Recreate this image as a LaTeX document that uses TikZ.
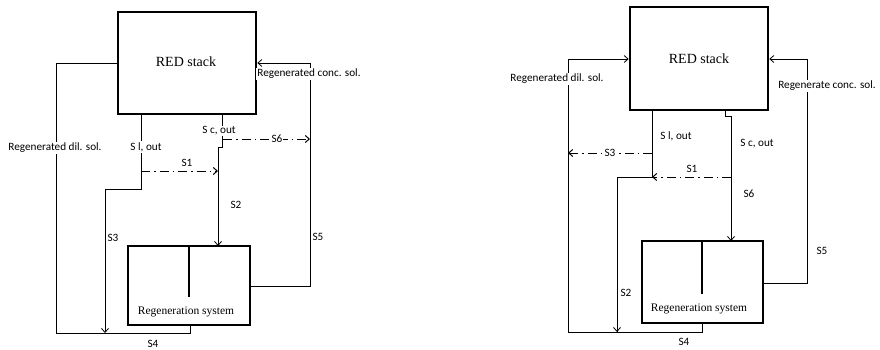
\documentclass[tikz,border=0pt]{standalone}
\usepackage{fontspec}
\setmainfont{Liberation Serif}
\newfontfamily\labfont{Carlito}
\usetikzlibrary{arrows.meta}
\begin{document}
\begin{tikzpicture}[x=1pt,y=-1pt,
  unitbox/.style={draw,line width=2.6pt,inner sep=0pt,rectangle},
  flow/.style={line width=0.8pt},
  arr/.style={flow,-{Straight Barb[length=4pt,width=7pt]}},
  dd/.style={line width=1pt,dash pattern=on 9pt off 4pt on 1.5pt off 4pt},
  dda/.style={dd,-{Straight Barb[length=4pt,width=7pt]}},
  lab/.style={font=\labfont\fontsize{11.2}{13}\selectfont,inner sep=1pt},
  labw/.style={lab,fill=white},
  title/.style={font=\fontsize{14}{16}\selectfont},
  regtxt/.style={font=\fontsize{11.5}{13}\selectfont},
  divider/.style={line width=2.6pt}]
\useasboundingbox (0,0) rectangle (880,350);
% ===== Left diagram =====
\node[unitbox,minimum width=138pt,minimum height=102pt] (stackL) at (187,63) {};
\node[title] (stackLt) at (186,62) {RED stack};
\node[unitbox,minimum width=122pt,minimum height=79pt] (regL) at (189,285.5) {};
\node[regtxt] (regLt) at (186,312) {Regeneration system};
\coordinate (dL1) at (189,246);
\coordinate (dL2) at (189,297);
\draw[divider] (dL1) -- (dL2);
% coordinates
\coordinate (Lsl) at (141,114);
\coordinate (Lslb) at (141,189);
\coordinate (Lslc) at (105,189);
\coordinate (Lsld) at (105,333);
\coordinate (Ls1a) at (141,171);
\coordinate (Ls1b) at (218,171);
\coordinate (Lsc) at (222,114);
\coordinate (Lscb) at (222,147);
\coordinate (Lscc) at (218,147);
\coordinate (Lscd) at (218,246);
\coordinate (Ls6a) at (223,139);
\coordinate (Ls6b) at (310,139);
\coordinate (Lrb) at (190,325);
\coordinate (Lrb2) at (190,333);
\coordinate (Lbl) at (56,333);
\coordinate (Ltl) at (56,63);
\coordinate (Lre) at (250,286);
\coordinate (Lbr) at (310,286);
\coordinate (Ltr) at (310,63);
% connectors
\draw[flow] (Lrb) -- (Lrb2) -- (Lbl) -- (Ltl) -- (stackL.west);
\draw[arr] (Lre) -- (Lbr) -- (Ltr) -- (stackL.east);
\draw[arr] (Lsl) -- (Lslb) -- (Lslc) -- (Lsld);
\draw[arr] (Lsc) -- (Lscb) -- (Lscc) -- (Lscd);
\draw[dda] (Ls1a) -- (Ls1b);
\draw[dda] (Ls6a) -- (Ls6b);
% labels
\node[labw] (LdilT) at (55,148) {Regenerated dil. sol.};
\node[labw] (LconT) at (309,74) {Regenerated conc. sol.};
\node[labw] (LslT) at (146,147) {S l, out};
\node[labw] (LscT) at (219,131) {S c, out};
\node[lab] (LS1) at (187,163) {S1};
\node[labw] (LS6) at (277,139) {S6};
\node[lab] (LS2) at (236,205) {S2};
\node[lab] (LS3) at (113,238) {S3};
\node[lab] (LS5) at (318,237) {S5};
\node[lab] (LS4) at (153,343.5) {S4};
% ===== Right diagram =====
\node[unitbox,minimum width=138pt,minimum height=103pt] (stackR) at (699,58.5) {};
\node[title] (stackRt) at (699,59) {RED stack};
\node[unitbox,minimum width=121pt,minimum height=82pt] (regR) at (702.5,282) {};
\node[regtxt] (regRt) at (699,309) {Regeneration system};
\coordinate (dR1) at (702,241);
\coordinate (dR2) at (702,294);
\draw[divider] (dR1) -- (dR2);
% coordinates
\coordinate (Rrb) at (702,323);
\coordinate (Rrb2) at (702,332);
\coordinate (Rbl) at (568,332);
\coordinate (Rtl) at (568,59);
\coordinate (Rre) at (763,283);
\coordinate (Rbr) at (807,283);
\coordinate (Rtr) at (807,59);
\coordinate (Rsl) at (652,110);
\coordinate (Rslb) at (652,177);
\coordinate (Rslc) at (617,177);
\coordinate (Rsld) at (617,332);
\coordinate (Rsc) at (725,110);
\coordinate (Rscb) at (725,116);
\coordinate (Rscc) at (731,116);
\coordinate (Rscd) at (731,241);
\coordinate (Rs1a) at (731,177);
\coordinate (Rs3a) at (652,153);
\coordinate (Rs3b) at (568,153);
% connectors
\draw[arr] (Rrb) -- (Rrb2) -- (Rbl) -- (Rtl) -- (stackR.west |- Rtl);
\draw[arr] (Rre) -- (Rbr) -- (Rtr) -- (stackR.east |- Rtr);
\draw[flow] (Rsl) -- (Rslb) -- (Rslc) -- (Rsld);
\draw[arr] (Rslc) -- (Rsld);
\draw[arr] (Rsc) -- (Rscb) -- (Rscc) -- (Rscd);
\draw[dda] (Rs1a) -- (Rslb);
\draw[dda] (Rs3a) -- (Rs3b);
% labels
\node[labw] (RdilT) at (557,79) {Regenerated dil. sol.};
\node[labw] (RconT) at (827,86) {Regenerate conc. sol.};
\node[lab] (RslT) at (676,136) {S l, out};
\node[lab] (RscT) at (757,144) {S c, out};
\node[lab] (RS1) at (692,169) {S1};
\node[labw] (RS3) at (610,153) {S3};
\node[lab] (RS6) at (749,194) {S6};
\node[lab] (RS2) at (626,293) {S2};
\node[lab] (RS5) at (822,251) {S5};
\node[lab] (RS4) at (684,342) {S4};
\end{tikzpicture}
\end{document}
